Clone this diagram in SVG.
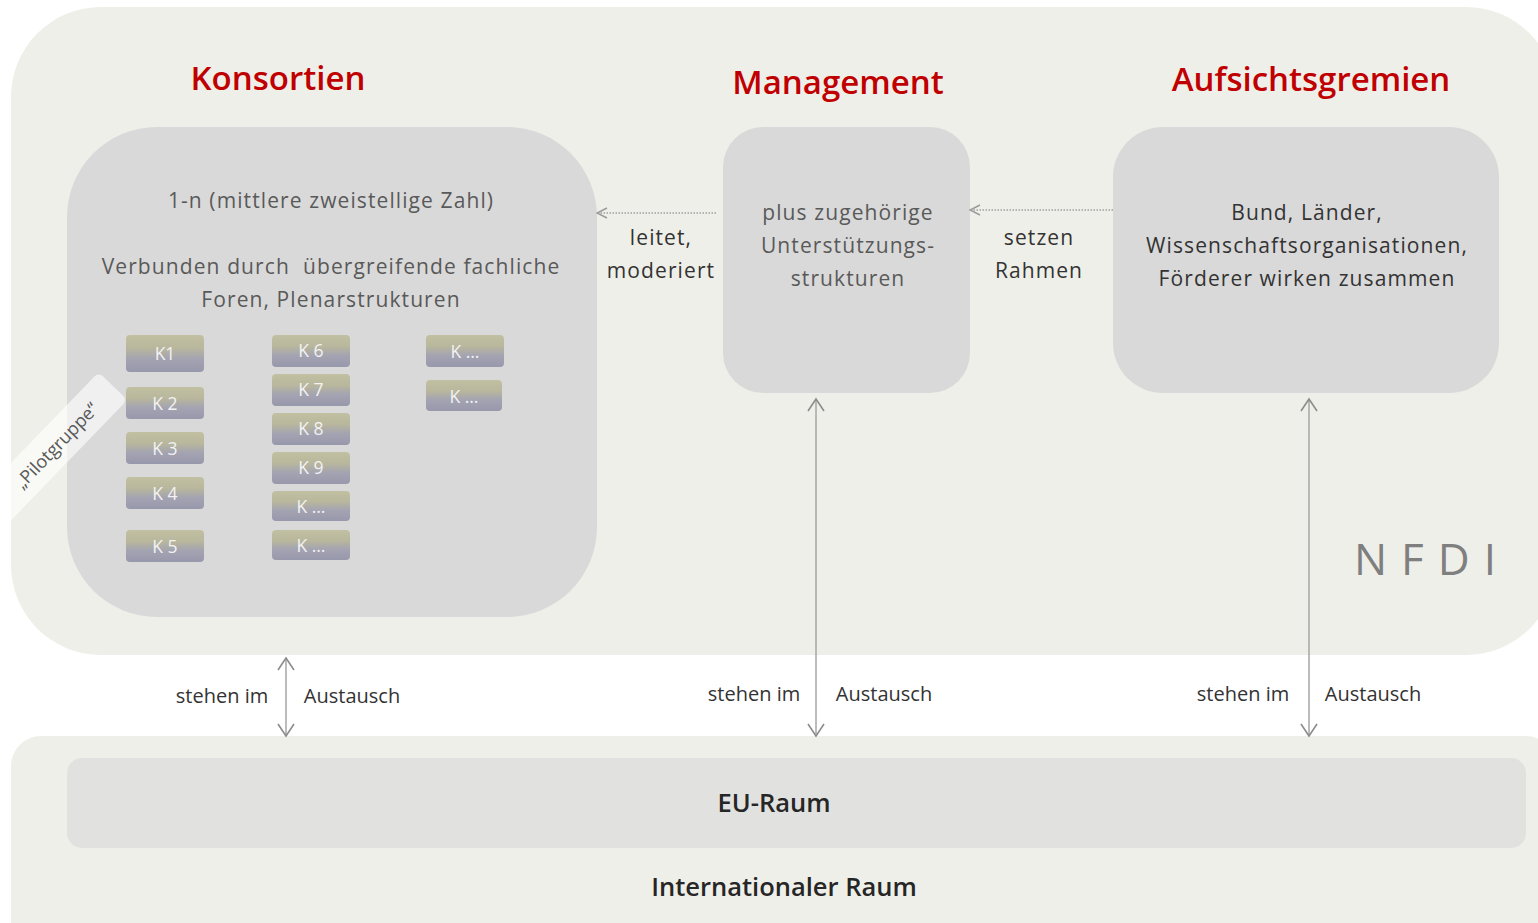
<svg xmlns="http://www.w3.org/2000/svg" width="1538" height="923" viewBox="0 0 1538 923">
<defs>
<linearGradient id="kg" x1="0" y1="0" x2="0" y2="1">
<stop offset="0" stop-color="#c2c0a2"/>
<stop offset="0.35" stop-color="#b9b79c"/>
<stop offset="0.65" stop-color="#a3a3b2"/>
<stop offset="1" stop-color="#9898ac"/>
</linearGradient>
<marker id="ah" viewBox="0 0 12 12" refX="11" refY="6" markerWidth="12" markerHeight="12" markerUnits="userSpaceOnUse" orient="auto-start-reverse">
<path d="M1,1 L11,6 L1,11" fill="none" stroke="#9a9a9a" stroke-width="1.5"/>
</marker>
<marker id="av" viewBox="0 0 20 20" refX="13" refY="10" markerWidth="20" markerHeight="20" markerUnits="userSpaceOnUse" orient="auto-start-reverse">
<path d="M1,2 L13,10 L1,18" fill="none" stroke="#8c8c8c" stroke-width="1.6"/>
</marker>
</defs>
<style>
.bg{fill:#efefe9}
.box{fill:#d9d9d9}
.title{font-family:"Open Sans",sans-serif;font-size:33px;font-weight:600;fill:#c00000;text-anchor:middle}
.t{font-family:"Open Sans",sans-serif;font-size:21px;letter-spacing:1.1px;fill:#595959;text-anchor:middle}
.d{font-family:"Open Sans",sans-serif;font-size:21px;letter-spacing:1.1px;fill:#333333;text-anchor:middle}
.s{font-family:"Open Sans",sans-serif;font-size:20px;fill:#333333;text-anchor:middle}
.k rect{fill:url(#kg)}
.k text{font-family:"Open Sans",sans-serif;font-size:17.5px;fill:#f2f2f2;text-anchor:middle}
.dot{stroke:#a0a0a0;stroke-width:1.5;stroke-dasharray:1.5 1.5;fill:none}
.v{stroke:#a6a6a6;stroke-width:1.5;fill:none}
.big{font-family:"Open Sans",sans-serif;font-size:25.5px;font-weight:600;fill:#262626;text-anchor:middle}
</style>
<rect width="1538" height="923" fill="#ffffff"/>
<g id="nfdi">
<rect class="bg" x="11" y="7" width="1545" height="648" rx="90"/>
<text x="1432" y="575" font-family="Open Sans, sans-serif" font-size="44" fill="#7f7f7f" text-anchor="middle" letter-spacing="14">NFDI</text>
</g>
<g id="international">
<rect class="bg" x="11" y="736" width="1545" height="220" rx="30"/>
<text class="big" x="784" y="896">Internationaler Raum</text>
</g>
<g id="eu">
<rect x="67" y="758" width="1459" height="90" rx="15" fill="#e1e1df"/>
<text class="big" x="774" y="812">EU-Raum</text>
</g>
<g id="konsortien">
<text class="title" x="278" y="90">Konsortien</text>
<rect class="box" x="67" y="127" width="530" height="490" rx="90"/>
<text class="t" x="331" y="208">1-n (mittlere zweistellige Zahl)</text>
<text class="t" x="331" y="274" xml:space="preserve">Verbunden durch  übergreifende fachliche</text>
<text class="t" x="331" y="307">Foren, Plenarstrukturen</text>
</g>
<g id="pilotgruppe" transform="translate(113,386) rotate(-46)">
<rect x="-190" y="-20" width="190" height="40" rx="6" fill="#ffffff" fill-opacity="0.6"/>
<text x="-82" y="7" font-family="Open Sans, sans-serif" font-size="18" fill="#595959" text-anchor="middle">„Pilotgruppe“</text>
</g>
<g id="k-buttons" class="k">
<g id="k1"><rect x="126" y="335" width="78" height="37" rx="4"/><text x="165" y="360">K1</text></g>
<g id="k2"><rect x="126" y="387" width="78" height="32" rx="4"/><text x="165" y="410">K 2</text></g>
<g id="k3"><rect x="126" y="432" width="78" height="32" rx="4"/><text x="165" y="455">K 3</text></g>
<g id="k4"><rect x="126" y="477" width="78" height="32" rx="4"/><text x="165" y="500">K 4</text></g>
<g id="k5"><rect x="126" y="530" width="78" height="32" rx="4"/><text x="165" y="553">K 5</text></g>
<g id="k6"><rect x="272" y="335" width="78" height="32" rx="4"/><text x="311" y="357">K 6</text></g>
<g id="k7"><rect x="272" y="374" width="78" height="32" rx="4"/><text x="311" y="396">K 7</text></g>
<g id="k8"><rect x="272" y="413" width="78" height="32" rx="4"/><text x="311" y="435">K 8</text></g>
<g id="k9"><rect x="272" y="452" width="78" height="32" rx="4"/><text x="311" y="474">K 9</text></g>
<g id="k10"><rect x="272" y="491" width="78" height="30" rx="4"/><text x="311" y="513">K …</text></g>
<g id="k11"><rect x="272" y="530" width="78" height="30" rx="4"/><text x="311" y="552">K …</text></g>
<g id="k12"><rect x="426" y="335" width="78" height="32" rx="4"/><text x="465" y="358">K …</text></g>
<g id="k13"><rect x="426" y="380" width="76" height="31" rx="4"/><text x="464" y="403">K …</text></g>
</g>
<g id="management">
<text class="title" x="838" y="94">Management</text>
<rect class="box" x="723" y="127" width="247" height="266" rx="40"/>
<text class="t" x="848" y="220">plus zugehörige</text>
<text class="t" x="848" y="253">Unterstützungs-</text>
<text class="t" x="848" y="286">strukturen</text>
</g>
<g id="aufsicht">
<text class="title" x="1311" y="91">Aufsichtsgremien</text>
<rect class="box" x="1113" y="127" width="386" height="266" rx="50"/>
<text class="d" x="1307" y="220">Bund, Länder,</text>
<text class="d" x="1307" y="253">Wissenschaftsorganisationen,</text>
<text class="d" x="1307" y="286">Förderer wirken zusammen</text>
</g>
<g id="connectors">
<line class="dot" x1="716" y1="213" x2="597" y2="213" marker-end="url(#ah)"/>
<line class="dot" x1="1113" y1="210" x2="970" y2="210" marker-end="url(#ah)"/>
<line class="v" x1="286" y1="658" x2="286" y2="736" marker-start="url(#av)" marker-end="url(#av)"/>
<line class="v" x1="816" y1="399" x2="816" y2="736" marker-start="url(#av)" marker-end="url(#av)"/>
<line class="v" x1="1309" y1="399" x2="1309" y2="736" marker-start="url(#av)" marker-end="url(#av)"/>
<text class="d" x="661" y="245">leitet,</text>
<text class="d" x="661" y="278">moderiert</text>
<text class="d" x="1039" y="245">setzen</text>
<text class="d" x="1039" y="278">Rahmen</text>
<text class="s" x="222" y="703">stehen im</text>
<text class="s" x="352" y="703">Austausch</text>
<text class="s" x="754" y="701">stehen im</text>
<text class="s" x="884" y="701">Austausch</text>
<text class="s" x="1243" y="701">stehen im</text>
<text class="s" x="1373" y="701">Austausch</text>
</g>
</svg>
